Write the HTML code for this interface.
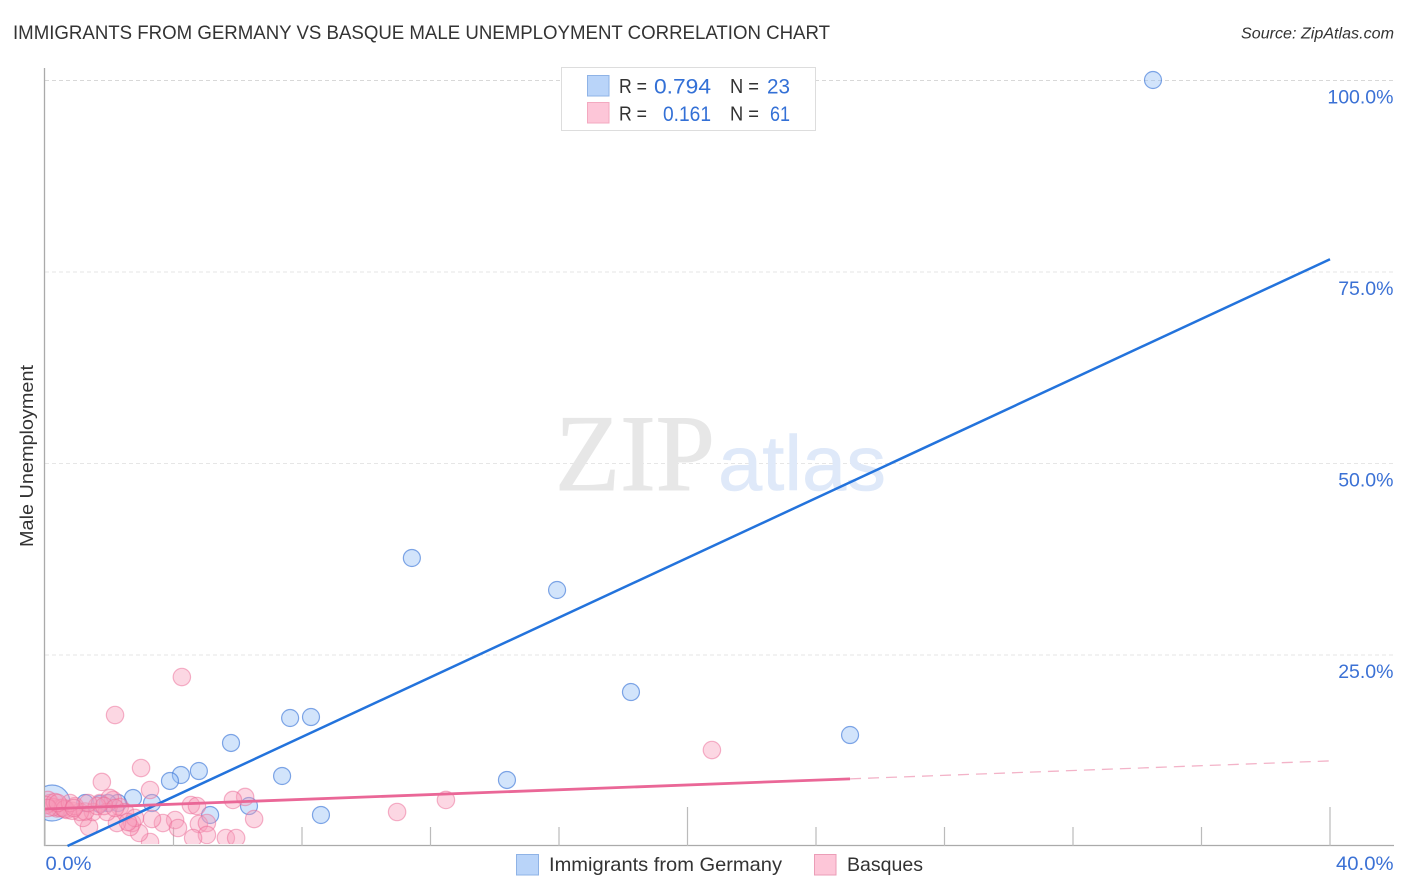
<!DOCTYPE html>
<html>
<head>
<meta charset="utf-8">
<title>Immigrants from Germany vs Basque Male Unemployment Correlation Chart</title>
<style>
html,body{margin:0;padding:0;background:#fff;width:1406px;height:892px;overflow:hidden}
svg{display:block}
text{font-family:"Liberation Sans",sans-serif}
</style>
</head>
<body>
<svg id="chart" xmlns="http://www.w3.org/2000/svg" width="1406" height="892" viewBox="0 0 1406 892">
  <defs>
    <clipPath id="plot-clip"><rect x="45" y="68" width="1349" height="776"/></clipPath>
  </defs>
  <rect width="1406" height="892" fill="#fff"/>
  <text x="13" y="39" font-size="19" fill="#333" textLength="817" lengthAdjust="spacingAndGlyphs">IMMIGRANTS FROM GERMANY VS BASQUE MALE UNEMPLOYMENT CORRELATION CHART</text>
  <text x="1241" y="38.500" font-size="15.500" font-style="italic" fill="#333" textLength="153" lengthAdjust="spacingAndGlyphs">Source: ZipAtlas.com</text>
  <g id="grid"></g>
  <text x="555" y="490" font-size="109" fill="#e7e7e7" stroke="#e7e7e7" stroke-width="1" textLength="160" lengthAdjust="spacingAndGlyphs" style="font-family:'Liberation Serif',serif">ZIP</text>
  <text x="718" y="490" font-size="78" fill="#dfe9f9" stroke="#dfe9f9" stroke-width="0.6" textLength="168" lengthAdjust="spacingAndGlyphs">atlas</text>
  <g id="axes"></g>
  <g id="marks" clip-path="url(#plot-clip)"></g>
  <g id="trends"></g>
  <g id="ticklabels"></g>
  <text transform="translate(33,456) rotate(-90)" text-anchor="middle" font-size="18.500" fill="#333" textLength="182" lengthAdjust="spacingAndGlyphs">Male Unemployment</text>

  <g>
    <rect x="561.500" y="67.500" width="254" height="63" fill="#fff" stroke="#ddd" stroke-width="1"/>
    <rect x="587.500" y="75.500" width="21.500" height="20.500" fill="#b9d4f9" stroke="#8fb3e6"/>
    <rect x="587.500" y="102.500" width="21.500" height="20.500" fill="#fdc6d8" stroke="#f3a9c0"/>
    <g font-size="20" fill="#333">
      <text x="619" y="93" textLength="28" lengthAdjust="spacingAndGlyphs">R =</text>
      <text x="730" y="93" textLength="29" lengthAdjust="spacingAndGlyphs">N =</text>
      <text x="619" y="120.500" textLength="28" lengthAdjust="spacingAndGlyphs">R =</text>
      <text x="730" y="120.500" textLength="29" lengthAdjust="spacingAndGlyphs">N =</text>
    </g>
    <g font-size="21.500" fill="#3370d6">
      <text x="654" y="93.500" textLength="57" lengthAdjust="spacingAndGlyphs">0.794</text>
      <text x="767" y="93.500" textLength="23" lengthAdjust="spacingAndGlyphs">23</text>
      <text x="663" y="121" textLength="48" lengthAdjust="spacingAndGlyphs">0.161</text>
      <text x="770" y="121" textLength="20" lengthAdjust="spacingAndGlyphs">61</text>
    </g>
  </g>

  <g>
    <rect x="516.500" y="854.500" width="22" height="20.500" fill="#b9d4f9" stroke="#8fb3e6"/>
    <text x="549" y="871" font-size="19.500" fill="#333" textLength="233" lengthAdjust="spacingAndGlyphs">Immigrants from Germany</text>
    <rect x="814.500" y="854.500" width="21.500" height="20.500" fill="#fdc6d8" stroke="#eb9db7"/>
    <text x="847" y="871" font-size="19.500" fill="#333" textLength="76" lengthAdjust="spacingAndGlyphs">Basques</text>
  </g>
</svg>
<script>
const yTickValues = [25, 50, 75, 100];
const yTickLabels = ["25.0%", "50.0%", "75.0%", "100.0%"];
const xTickValues = [0, 4, 8, 12, 16, 20, 24, 28, 32, 36, 40];
const xMajorTicks = [0, 20, 40];
const xEndLabels = ["0.0%", "40.0%"];

const germanyX = [34.49, 11.42, 15.94, 18.24, 25.06, 8.28, 7.63, 5.79, 4.79, 4.23, 3.89, 7.38, 14.38, 8.59, 6.35, 5.14, 3.33, 2.74, 1.25, 2.27, 1.96, 0.22, 1.71];
const germanyY = [100, 37.6, 33.42, 20.1, 14.49, 16.84, 16.71, 13.45, 9.79, 9.27, 8.49, 9.14, 8.62, 4.05, 5.22, 4.05, 5.61, 6.27, 5.61, 5.61, 5.61, 5.61, 5.48];
const germanyLargeIndex = [21];

const basquesX = [4.26, 2.18, 2.99, 1.77, 3.27, 20.76, 12.48, 10.96, 6.23, 5.85, 6.51, 4.54, 4.73, 4.05, 3.67, 4.14, 4.79, 5.04, 5.04, 4.61, 5.63, 5.95, 3.27, 3.33, 2.93, 2.71, 2.65, 2.24, 1.37, 1.18, 2.12, 1.71, 2.02, 2.33, 1.49, 1.93, 1.09, 0.68, 0.84, 0.37, 0.16, 0.09, 0.47, 0.25, 0.56, 0.93, 0.03, 0.31, 0.62, 0.78, 1.25, 1.62, 1.84, 2.49, 2.80, 2.58, 0.09, 0.40, 0.90, 1.34, 2.18];
const basquesY = [22.06, 17.10, 10.18, 8.36, 7.31, 12.53, 6.01, 4.44, 6.40, 6.01, 3.52, 5.35, 5.22, 3.39, 3.00, 2.35, 2.87, 3.00, 1.44, 1.04, 1.04, 1.04, 0.52, 3.52, 1.70, 3.00, 2.48, 3.00, 2.48, 3.66, 6.01, 5.61, 6.27, 5.09, 4.44, 4.44, 4.44, 4.70, 4.60, 4.90, 5.61, 6.01, 4.96, 5.09, 5.00, 5.20, 5.35, 5.74, 4.83, 5.61, 4.50, 5.22, 5.22, 4.44, 3.66, 3.13, 4.96, 5.61, 4.96, 5.61, 4.96];

const germanyTrendIntercept = [-1.36];
const germanyTrendSlope = [1.949];
const germanyTrendRange = [0.7, 40];
const basquesTrendIntercept = [4.83];
const basquesTrendSlope = [0.157];
const basquesSolidRange = [0, 25.06];
const basquesDashedRange = [25.06, 40];

const NS = 'http://www.w3.org/2000/svg';
function xScale(v) { return 45 + v * (1285 / 40); }
function yScale(v) { return 846 - v * 7.66; }
function make(tag, attrs, parent) {
  const el = document.createElementNS(NS, tag);
  for (const k in attrs) el.setAttribute(k, attrs[k]);
  parent.appendChild(el);
  return el;
}
const gridG = document.getElementById('grid');
const axesG = document.getElementById('axes');
const marksG = document.getElementById('marks');
const trendsG = document.getElementById('trends');
const labelsG = document.getElementById('ticklabels');

yTickValues.forEach(function (v, i) {
  const shade = v === 100 ? '#d8d8d8' : '#e6e6e6';
  const line = make('line', {x1: 45, x2: 1394, y1: yScale(v) + 0.5, y2: yScale(v) + 0.5, stroke: shade, 'stroke-width': 1, 'stroke-dasharray': '4 3'}, gridG);
  
  
  const t = make('text', {x: 1393.5, y: yScale(v) + 23.5, 'text-anchor': 'end', 'font-size': 19.5, fill: '#3b71d5'}, labelsG);
  t.textContent = yTickLabels[i];
  
  
});

const yAxis = make('line', {x1: 44.5, x2: 44.5, y1: 68, y2: 846, stroke: '#aaa', 'stroke-width': 1.3}, axesG);


const xAxis = make('line', {x1: 44, x2: 1394, y1: 845.5, y2: 845.5, stroke: '#aaa', 'stroke-width': 1.3}, axesG);


xTickValues.forEach(function (v) {
  const top = xMajorTicks.indexOf(v) >= 0 ? 807 : 827;
  const tick = make('line', {x1: xScale(v), x2: xScale(v), y1: top, y2: 846, stroke: '#bbb', 'stroke-width': 1.2}, axesG);
  
  
});
const x0 = make('text', {x: 45.5, y: 870, 'font-size': 19.5, fill: '#3b71d5', textLength: 46, lengthAdjust: 'spacingAndGlyphs'}, labelsG);
x0.textContent = xEndLabels[0];


const x1 = make('text', {x: 1336, y: 870, 'font-size': 19.5, fill: '#3b71d5', textLength: 57.5, lengthAdjust: 'spacingAndGlyphs'}, labelsG);
x1.textContent = xEndLabels[1];



germanyX.forEach(function (v, i) {
  const r = germanyLargeIndex.indexOf(i) >= 0 ? 18 : 8.5;
  const c = make('circle', {cx: xScale(v), cy: yScale(germanyY[i]), r: r, fill: 'rgba(147,190,245,0.42)', stroke: 'rgba(55,115,215,0.62)', 'stroke-width': 1.2}, marksG);
  
  
});
basquesX.forEach(function (v, i) {
  const c = make('circle', {cx: xScale(v), cy: yScale(basquesY[i]), r: 8.7, fill: 'rgba(247,155,185,0.4)', stroke: 'rgba(235,105,150,0.5)', 'stroke-width': 1.2}, marksG);
  
  
});

function trendLine(intercept, slope, range, attrs) {
  return make('line', Object.assign({
    x1: xScale(range[0]), y1: yScale(intercept + slope * range[0]),
    x2: xScale(range[1]), y2: yScale(intercept + slope * range[1])
  }, attrs), trendsG);
}
const blueTrend = trendLine(germanyTrendIntercept[0], germanyTrendSlope[0], germanyTrendRange, {stroke: '#2373dc', 'stroke-width': 2.5});


const pinkTrend = trendLine(basquesTrendIntercept[0], basquesTrendSlope[0], basquesSolidRange, {stroke: '#ea6797', 'stroke-width': 2.8});


const pinkDash = trendLine(basquesTrendIntercept[0], basquesTrendSlope[0], basquesDashedRange, {stroke: '#f3b3c8', 'stroke-width': 1.3, 'stroke-dasharray': '11 7'});


</script>
</body>
</html>
